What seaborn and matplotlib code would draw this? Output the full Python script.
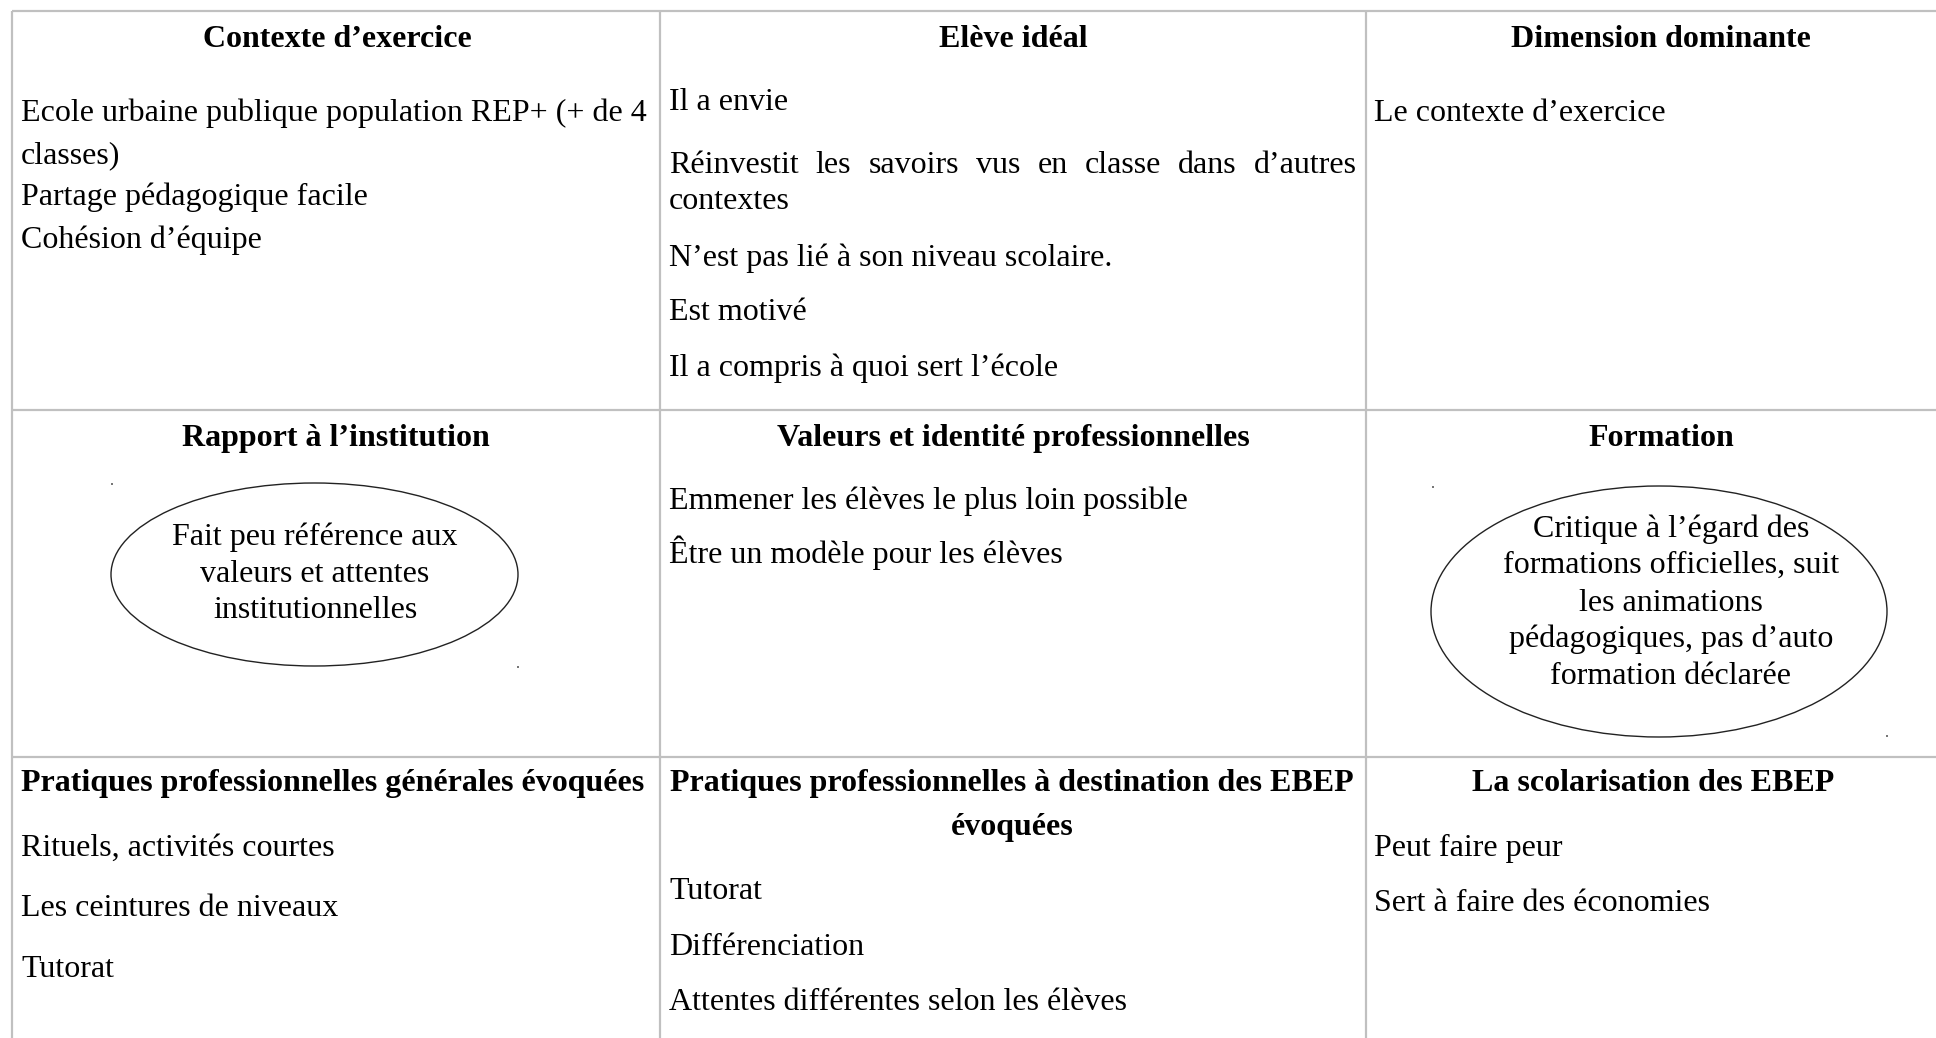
import matplotlib
matplotlib.use("Agg")
import matplotlib.pyplot as plt
import seaborn as sns
from matplotlib.patches import Ellipse

sns.set_theme(style="white")
plt.rcParams['font.family'] = ['Liberation Serif', 'DejaVu Serif']

# ---------------- content ----------------
row1_headers = ["Contexte d’exercice", "Elève idéal", "Dimension dominante"]
row2_headers = ["Rapport à l’institution", "Valeurs et identité professionnelles", "Formation"]
row3_headers = ["Pratiques professionnelles générales évoquées",
                "Pratiques professionnelles à destination des EBEP",
                "La scolarisation des EBEP"]
row3_header2_cont = "évoquées"

contexte_lines = ["Ecole urbaine publique population REP+ (+ de 4", "classes)",
                  "Partage pédagogique facile", "Cohésion d’équipe"]
eleve_lines = ["Il a envie", "Réinvestit les savoirs vus en classe dans d’autres", "contextes",
               "N’est pas lié à son niveau scolaire.", "Est motivé", "Il a compris à quoi sert l’école"]
dimension_lines = ["Le contexte d’exercice"]
institution_lines = ["Fait peu référence aux", "valeurs et attentes", "institutionnelles"]
valeurs_lines = ["Emmener les élèves le plus loin possible", "Être un modèle pour les élèves"]
formation_lines = ["Critique à l’égard des", "formations officielles, suit", "les animations",
                   "pédagogiques, pas d’auto", "formation déclarée"]
pratiques_gen_lines = ["Rituels, activités courtes", "Les ceintures de niveaux", "Tutorat"]
pratiques_ebep_lines = ["Tutorat", "Différenciation", "Attentes différentes selon les élèves"]
scolarisation_lines = ["Peut faire peur", "Sert à faire des économies"]

# ---------------- layout ----------------
W, H = 1936, 1038
fig = plt.figure(figsize=(W / 100, H / 100), dpi=100)
ax = fig.add_axes([0, 0, 1, 1])
ax.set_xlim(0, W)
ax.set_ylim(H, 0)
ax.axis('off')

FS = 23
GRID = "#c0c0c0"
x_left = [21, 669, 1374]

# grid lines
for yy in [11, 410, 757]:
    ax.hlines(yy, 12, W, color=GRID, lw=1.6)
for xx in [12, 660, 1366]:
    ax.vlines(xx, 11, H, color=GRID, lw=1.6)

def hdr(x, y, s, ha='center'):
    ax.text(x, y, s, fontsize=FS, fontweight='bold', ha=ha, va='baseline', color='black')

def body(x, ys, lines, ha='left'):
    for yy, s in zip(ys, lines):
        ax.text(x, yy, s, fontsize=FS, ha=ha, va='baseline', color='black')

# Row 1 headers
for cx, s in zip([337, 1013, 1661], row1_headers):
    hdr(cx, 47, s)
# Row 2 headers
for cx, s in zip([336, 1013, 1661], row2_headers):
    hdr(cx, 446, s)
# Row 3 headers
hdr(333, 791, row3_headers[0])
hdr(1012, 791, row3_headers[1])
hdr(1012, 835, row3_header2_cont)
hdr(1653, 791, row3_headers[2])

# Row 1 bodies
body(x_left[0], [121, 163, 205, 248], contexte_lines)
y_el = [110, 173, 209, 266, 320, 376]
fig.canvas.draw()
renderer = fig.canvas.get_renderer()
for i, (yy, s) in enumerate(zip(y_el, eleve_lines)):
    if i == 1:
        # justified line
        words = s.split(' ')
        x0, x1 = 669, 1357
        objs = [ax.text(0, yy, w, fontsize=FS, ha='left', va='baseline', color='black') for w in words]
        widths = [o.get_window_extent(renderer).width for o in objs]
        gap = (x1 - x0 - sum(widths)) / (len(words) - 1)
        xc = x0
        for o, wd in zip(objs, widths):
            o.set_x(xc)
            xc += wd + gap
    else:
        ax.text(x_left[1], yy, s, fontsize=FS, ha='left', va='baseline', color='black')
body(x_left[2], [121], dimension_lines)

# Row 2 bodies
ax.add_patch(Ellipse((314.5, 574.5), 407, 183, fill=False, ec='#222222', lw=1.0))
body(315, [545, 582, 618], institution_lines, ha='center')
body(x_left[1], [509, 563], valeurs_lines)
ax.add_patch(Ellipse((1659, 611.5), 456, 251, fill=False, ec='#222222', lw=1.0))
body(1671, [537, 573, 611, 647, 684], formation_lines, ha='center')

# tiny anchor marks (bounding-box corners of the shapes)
sns.scatterplot(x=[112, 518, 1433, 1887], y=[484, 667, 487, 736], ax=ax,
                s=3, color='#777777', marker='s', linewidth=0, legend=False)

# Row 3 bodies
body(x_left[0], [856, 916, 977], pratiques_gen_lines)
body(x_left[1], [899, 955, 1010], pratiques_ebep_lines)
body(x_left[2], [856, 911], scolarisation_lines)

ax.set_xlim(0, W)
ax.set_ylim(H, 0)
fig.savefig("out.png", dpi=100)
